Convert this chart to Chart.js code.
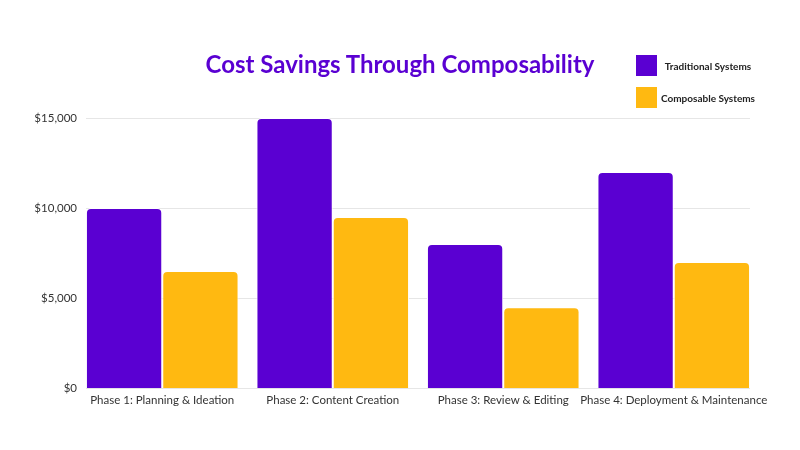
<!DOCTYPE html>
<html>
<head>
<meta charset="utf-8">
<script src="https://cdn.jsdelivr.net/npm/chart.js@4/dist/chart.umd.min.js"></script>
<style>
  html, body { margin: 0; padding: 0; background: #fff; }
  #wrap { position: relative; width: 800px; height: 450px; }
  #title { position: absolute; left: 0; width: 800px; top: 49px; text-align: center; font-family: Lato, sans-serif; font-weight: 700; font-size: 24px; color: #5a00d2; }
  #legend { position: absolute; left: 636px; top: 55px; font-family: Lato, sans-serif; font-weight: 700; font-size: 10px; color: #222; }
  .item { display: flex; align-items: center; height: 21px; margin-bottom: 11px; }
  .box { width: 21px; height: 21px; margin-right: 3px; }
  .txt { width: 96px; text-align: center; }
</style>
</head>
<body>
<div id="wrap">
  <canvas id="chart" width="800" height="450"></canvas>
  <div id="title">Cost Savings Through Composability</div>
  <div id="legend"></div>
</div>
<script>
const phases = [
  "Phase 1: Planning & Ideation",
  "Phase 2: Content Creation",
  "Phase 3: Review & Editing",
  "Phase 4: Deployment & Maintenance"
];
const traditional = [10000, 15000, 8000, 12000];
const composable = [6500, 9500, 4500, 7000];
const seriesNames = ["Traditional Systems", "Composable Systems"];
const seriesColors = ["#5a00d2", "#ffb911"];

// horizontal gridlines inset a little from the plot edges, like the original
const insetGrid = {
  id: "insetGrid",
  beforeDatasetsDraw(chart) {
    const { ctx, chartArea, scales } = chart;
    ctx.save();
    ctx.strokeStyle = "#e6e6e6";
    ctx.lineWidth = 1;
    scales.y.ticks.forEach(t => {
      const y = Math.round(scales.y.getPixelForValue(t.value)) + 0.5;
      ctx.beginPath();
      ctx.moveTo(chartArea.left + 9, y);
      ctx.lineTo(chartArea.right - 9, y);
      ctx.stroke();
    });
    ctx.restore();
  }
};

const chart = new Chart(document.getElementById("chart"), {
  type: "bar",
  data: {
    labels: phases,
    datasets: [
      {
        label: seriesNames[0],
        data: traditional,
        backgroundColor: seriesColors[0],
        borderColor: "#ffffff",
        borderWidth: 1,
        borderRadius: 5,
        borderSkipped: "bottom"
      },
      {
        label: seriesNames[1],
        data: composable,
        backgroundColor: seriesColors[1],
        borderColor: "#ffffff",
        borderWidth: 1,
        borderRadius: 5,
        borderSkipped: "bottom"
      }
    ]
  },
  options: {
    responsive: false,
    animation: false,
    layout: { padding: { top: 118, right: 41, bottom: 38, left: 0 } },
    datasets: { bar: { categoryPercentage: 0.895, barPercentage: 1 } },
    plugins: {
      legend: { display: false },
      tooltip: { enabled: false },
      title: { display: false }
    },
    scales: {
      x: {
        grid: { display: false, drawTicks: false },
        border: { display: false },
        ticks: { color: "#333", font: { family: "Lato", size: 11.5 }, maxRotation: 0, autoSkip: false, padding: 5 }
      },
      y: {
        min: 0,
        max: 15000,
        border: { display: false },
        grid: { display: false, drawTicks: false },
        afterFit: s => { s.width = 77; },
        ticks: {
          stepSize: 5000,
          padding: 0,
          color: "#333",
          font: { family: "Lato", size: 11.5 },
          callback: v => "$" + v.toLocaleString("en-US")
        }
      }
    }
  },
  plugins: [insetGrid]
});

const legend = document.getElementById("legend");
chart.data.datasets.forEach(ds => {
  const item = document.createElement("div");
  item.className = "item";
  const box = document.createElement("span");
  box.className = "box";
  box.style.background = ds.backgroundColor;
  const txt = document.createElement("span");
  txt.className = "txt";
  txt.textContent = ds.label;
  item.appendChild(box);
  item.appendChild(txt);
  legend.appendChild(item);
});
</script>
</body>
</html>
